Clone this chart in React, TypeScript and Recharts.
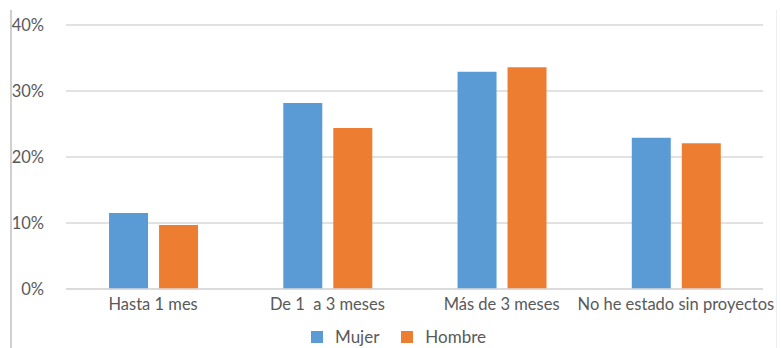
import { BarChart, Bar, XAxis, YAxis, CartesianGrid, Legend } from "recharts"

const categories = ["Hasta 1 mes", "De 1\u00a0 a 3 meses", "Más de 3 meses", "No he estado sin proyectos"]
const mujer = [11.5, 28.2, 32.9, 22.9]
const hombre = [9.7, 24.4, 33.6, 22.1]
const yTicks = [0, 10, 20, 30, 40]

const SERIES = [
  { key: "Mujer", color: "#5b9bd5" },
  { key: "Hombre", color: "#ed7d31" },
]

const data = categories.map((name, i) => ({ name, Mujer: mujer[i], Hombre: hombre[i] }))

const FONT = "Lato, 'Open Sans', sans-serif"
const TEXT = "#595959"

function LegendBox() {
  return (
    <div style={{ display: "flex", alignItems: "center", paddingTop: 8, fontSize: 17, color: TEXT, fontFamily: FONT, lineHeight: "20px" }}>
      {SERIES.map((s) => (
        <div key={s.key} style={{ display: "flex", alignItems: "center", marginRight: 22 }}>
          <span style={{ display: "inline-block", width: 12, height: 12, background: s.color, marginRight: 12 }} />
          <span>{s.key}</span>
        </div>
      ))}
    </div>
  )
}

export default function App() {
  return (
    <div style={{ position: "absolute", left: 0, top: 0, width: 781, height: 348, background: "#fff", fontFamily: FONT }}>
      {/* frame edges seen in the screenshot */}
      <div style={{ position: "absolute", left: 10, top: 10, width: 2, height: 338, background: "#d0d0d0" }} />
      <div style={{ position: "absolute", left: 776, top: 10, width: 1, height: 338, background: "#eeeeee" }} />
      <BarChart
        width={781}
        height={348}
        data={data}
        margin={{ top: 25, right: 18, left: 0, bottom: 0 }}
        barCategoryGap="24.7%"
        barGap={11}
      >
        <CartesianGrid vertical={false} stroke="#d9d9d9" strokeWidth={1.5} />
        <XAxis
          dataKey="name"
          axisLine={{ stroke: "#d9d9d9", strokeWidth: 1.5 }}
          tickLine={false}
          tickSize={0}
          tickMargin={9}
          height={30}
          interval={0}
          tick={{ fontSize: 16.5, fill: TEXT, fontFamily: FONT }}
        />
        <YAxis
          domain={[0, 40]}
          ticks={yTicks}
          width={66}
          axisLine={false}
          tickLine={false}
          tickSize={0}
          tickMargin={22}
          tickFormatter={(v) => `${v}%`}
          tick={{ fontSize: 16.5, fill: TEXT, fontFamily: FONT }}
        />
        <Legend
          verticalAlign="bottom"
          height={29}
          wrapperStyle={{ left: 311, width: 260 }}
          content={() => <LegendBox />}
        />
        {SERIES.map((s) => (
          <Bar key={s.key} dataKey={s.key} fill={s.color} isAnimationActive={false} />
        ))}
      </BarChart>
    </div>
  )
}
